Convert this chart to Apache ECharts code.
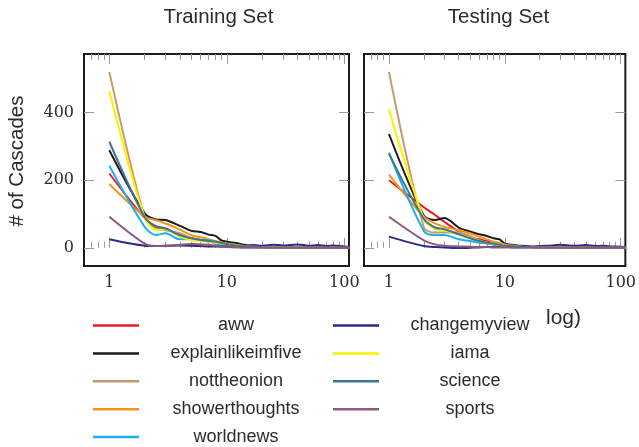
<!DOCTYPE html>
<html>
<head>
<meta charset="utf-8">
<script src="https://cdn.jsdelivr.net/npm/echarts@6/dist/echarts.min.js"></script>
<style>
  html, body { margin: 0; padding: 0; background: #fff; }
  #chart { width: 639px; height: 447px; }
</style>
</head>
<body>
<div id="chart"></div>
<script>
// cascade sizes (x, log scale)
var sizes = [1, 2, 2.5, 3, 4, 5, 6, 7, 8, 9, 10, 12, 14, 17, 20, 25, 30, 40, 50, 60, 70, 80, 100, 110];

var names = ['aww', 'explainlikeimfive', 'nottheonion', 'showerthoughts', 'worldnews',
  'changemyview', 'iama', 'science', 'sports'];
var colors = ['#ea1d25', '#1a1a1a', '#c49a6c', '#f7921e', '#1cb0e8',
  '#2b2a8c', '#fff000', '#3a7792', '#8b5a7b'];

// # of cascades, training set
var trainAww = [220, 88, 64, 57, 37, 28, 23, 20, 18, 15, 11, 6, 4, 3, 2, 2, 1, 1, 1, 0, 0, 0, 0, 0];
var trainExplain = [289, 102, 84, 82, 65, 50, 47, 39, 35, 22, 18, 14, 9, 5, 3, 2, 2, 1, 1, 1, 0, 0, 0, 0];
var trainOnion = [521, 90, 57, 52, 43, 28, 23, 18, 15, 12, 10, 6, 4, 3, 2, 1, 1, 1, 0, 0, 0, 0, 0, 0];
var trainShower = [189, 92, 82, 72, 54, 37, 31, 25, 20, 16, 13, 8, 5, 3, 2, 2, 1, 1, 1, 0, 0, 0, 0, 0];
var trainWorld = [243, 62, 38, 43, 25, 25, 23, 23, 11, 7, 5, 3, 2, 2, 1, 1, 1, 0, 0, 0, 0, 0, 0, 0];
var trainCmv = [25, 6, 5, 6, 7, 6, 5, 4, 4, 4, 4, 3, 5, 8, 6, 9, 7, 10, 6, 8, 5, 7, 4, 3];
var trainIama = [464, 88, 54, 54, 33, 23, 20, 18, 15, 13, 11, 6, 4, 3, 2, 1, 1, 1, 0, 0, 0, 0, 0, 0];
var trainScience = [314, 90, 62, 57, 37, 28, 23, 20, 18, 14, 11, 6, 4, 3, 2, 1, 1, 1, 0, 0, 0, 0, 0, 0];
var trainSports = [92, 12, 5, 6, 9, 11, 10, 9, 6, 3, 2, 1, 0, 0, 0, 0, 0, 0, 0, 0, 0, 0, 0, 0];

// # of cascades, testing set
var testAww = [200, 120, 97, 77, 48, 31, 25, 20, 15, 12, 9, 5, 3, 2, 2, 1, 1, 1, 0, 0, 0, 0, 0, 0];
var testExplain = [337, 95, 82, 88, 60, 48, 40, 35, 28, 25, 12, 8, 5, 3, 2, 2, 1, 1, 1, 0, 0, 0, 0, 0];
var testOnion = [521, 60, 45, 45, 45, 35, 22, 15, 10, 8, 6, 4, 3, 2, 1, 1, 1, 0, 0, 0, 0, 0, 0, 0];
var testShower = [217, 92, 72, 62, 52, 43, 33, 25, 18, 14, 10, 6, 4, 3, 2, 1, 1, 1, 0, 0, 0, 0, 0, 0];
var testWorld = [282, 50, 38, 38, 25, 20, 15, 13, 10, 7, 5, 3, 2, 2, 1, 1, 1, 0, 0, 0, 0, 0, 0, 0];
var testCmv = [33, 5, 2, 1, -1, 0, 1, 2, 2, 2, 2, 4, 6, 3, 5, 7, 9, 6, 8, 5, 6, 4, 3, 2];
var testIama = [410, 85, 55, 52, 40, 30, 20, 15, 12, 8, 5, 4, 3, 2, 1, 1, 1, 0, 0, 0, 0, 0, 0, 0];
var testScience = [278, 85, 60, 55, 40, 28, 20, 15, 12, 9, 6, 4, 3, 2, 1, 1, 1, 0, 0, 0, 0, 0, 0, 0];
var testSports = [92, 22, 10, 6, 4, 3, 2, 2, 1, 1, 1, 0, 0, 0, 0, 0, 0, 0, 0, 0, 0, 0, 0, 0];

var trainSets = {
  aww: trainAww, explainlikeimfive: trainExplain, nottheonion: trainOnion,
  showerthoughts: trainShower, worldnews: trainWorld, changemyview: trainCmv,
  iama: trainIama, science: trainScience, sports: trainSports
};
var testSets = {
  aww: testAww, explainlikeimfive: testExplain, nottheonion: testOnion,
  showerthoughts: testShower, worldnews: testWorld, changemyview: testCmv,
  iama: testIama, science: testScience, sports: testSports
};

var xMajor = [1, 10, 100];
var xMinor = [0.7, 0.8, 0.9, 2, 3, 4, 5, 6, 7, 8, 9, 20, 30, 40, 50, 60, 70, 80, 90];
var yTicks = [0, 200, 400];

var tickColor = '#9a9a9a';
var textColor = '#2b2b2b';

function xAxes(g) {
  var base = {
    type: 'log', gridIndex: g, min: 0.609, max: 109.6,
    axisLine: { show: false }, splitLine: { show: false }, minorTick: { show: false }
  };
  var list = [];
  ['bottom', 'top'].forEach(function (pos) {
    list.push(Object.assign({}, base, {
      position: pos,
      axisTick: { inside: true, length: 10, customValues: xMajor, lineStyle: { color: tickColor, width: 1 } },
      axisLabel: pos === 'bottom' ? {
        customValues: xMajor, margin: 9, fontFamily: 'DejaVu Serif', fontSize: 16, color: textColor
      } : { show: false }
    }));
    list.push(Object.assign({}, base, {
      position: pos,
      axisTick: { inside: true, length: 6, customValues: xMinor, lineStyle: { color: tickColor, width: 1 } },
      axisLabel: { show: false }
    }));
  });
  return list;
}

function yAxes(g) {
  var base = {
    type: 'value', gridIndex: g, min: -54, max: 574,
    axisLine: { show: false }, splitLine: { show: false },
    axisTick: { inside: true, length: 10, customValues: yTicks, lineStyle: { color: tickColor, width: 1 } }
  };
  return [
    Object.assign({}, base, {
      position: 'left',
      axisLabel: g === 0 ? {
        customValues: yTicks, margin: 10, fontFamily: 'DejaVu Serif', fontSize: 16, color: textColor
      } : { show: false }
    }),
    Object.assign({}, base, { position: 'right', axisLabel: { show: false } })
  ];
}

function makeSeries(sets, g) {
  return names.map(function (name, i) {
    return {
      name: name,
      type: 'line',
      xAxisIndex: g * 4,
      yAxisIndex: g * 2,
      data: sizes.map(function (x, j) { return [x, sets[name][j]]; }),
      symbol: 'none',
      smooth: 0.3,
      lineStyle: { color: colors[i], width: 2 },
      itemStyle: { color: colors[i] },
      z: 3
    };
  });
}

var legendText = function (w) {
  return {
    rich: {
      n: { width: w, align: 'center', fontSize: 18, fontFamily: 'Liberation Sans', color: textColor }
    }
  };
};

var chart = echarts.init(document.getElementById('chart'));

var option = {
  animation: false,
  backgroundColor: '#fff',
  grid: [
    { left: 84, top: 54, width: 265, height: 212, show: true, borderColor: '#1a1a1a', borderWidth: 2 },
    { left: 364, top: 54, width: 265, height: 212, show: true, borderColor: '#1a1a1a', borderWidth: 2 }
  ],
  xAxis: xAxes(0).concat(xAxes(1)),
  yAxis: yAxes(0).concat(yAxes(1)),
  legend: [
    {
      orient: 'vertical', left: 93, top: 316.5, padding: 0, z: 10,
      data: names.slice(0, 5), icon: 'rect', itemWidth: 46, itemHeight: 2.5, itemGap: 9.9,
      selectedMode: false, formatter: '{n|{name}}', textStyle: legendText(184)
    },
    {
      orient: 'vertical', left: 333, top: 316.5, padding: 0, z: 10,
      data: names.slice(5), icon: 'rect', itemWidth: 46, itemHeight: 2.5, itemGap: 9.9,
      selectedMode: false, formatter: '{n|{name}}', textStyle: legendText(172)
    }
  ],
  graphic: [
    {
      type: 'text', x: 218.5, y: 17, z: 1,
      style: { text: 'Training Set', textAlign: 'center', textVerticalAlign: 'middle',
        fontFamily: 'Liberation Sans', fontSize: 20.5, fill: textColor }
    },
    {
      type: 'text', x: 498.5, y: 17, z: 1,
      style: { text: 'Testing Set', textAlign: 'center', textVerticalAlign: 'middle',
        fontFamily: 'Liberation Sans', fontSize: 20.5, fill: textColor }
    },
    {
      type: 'text', x: 17, y: 161, rotation: Math.PI / 2, z: 1,
      style: { text: '# of Cascades', textAlign: 'center', textVerticalAlign: 'middle',
        fontFamily: 'Liberation Sans', fontSize: 20.5, fill: textColor }
    },
    {
      // x-axis label, mostly hidden behind the legend box
      type: 'text', x: 581, y: 318, z: 1,
      style: { text: 'Cascade Size (log)', textAlign: 'right', textVerticalAlign: 'middle',
        fontFamily: 'Liberation Sans', fontSize: 21, fill: textColor }
    },
    {
      type: 'rect', z: 5,
      shape: { x: 80, y: 300, width: 465.5, height: 147 },
      style: { fill: '#fff' }
    }
  ],
  series: makeSeries(trainSets, 0).concat(makeSeries(testSets, 1))
};

chart.setOption(option);
</script>
</body>
</html>
